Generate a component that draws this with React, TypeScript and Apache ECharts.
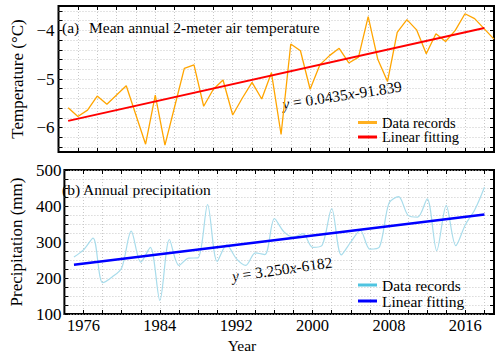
import React, { useEffect, useRef } from 'react';
import * as echarts from 'echarts';

const FONT = "'Liberation Serif', 'Times New Roman', Times, serif";

const tempYears = [
  1975, 1976, 1977, 1978, 1979, 1980, 1981, 1982, 1983, 1984, 1985, 1986, 1987, 1988, 1989,
  1990, 1991, 1992, 1993, 1994, 1995, 1996, 1997, 1998, 1999, 2000, 2001, 2002, 2003, 2004,
  2005, 2006, 2007, 2008, 2009, 2010, 2011, 2012, 2013, 2014, 2015, 2016, 2017, 2018, 2019,
];
const tempValues = [
  -5.59, -5.77, -5.64, -5.35, -5.52, -5.33, -5.14, -5.74, -6.34, -5.33, -6.36, -5.57, -4.78, -4.71, -5.56,
  -5.21, -5.02, -5.74, -5.39, -5.07, -5.41, -4.87, -6.14, -4.28, -4.42, -5.21, -4.71, -4.52, -4.37, -4.67,
  -4.55, -3.72, -4.6, -5.05, -4.04, -3.78, -3.99, -4.48, -4.07, -4.23, -4.0, -3.66, -3.76, -3.97, -4.18,
];
const precipYears = [
  1975, 1976, 1977, 1978, 1979, 1980, 1981, 1982, 1983, 1984, 1985, 1986, 1987, 1988, 1989,
  1990, 1991, 1992, 1993, 1994, 1995, 1996, 1997, 1998, 1999, 2000, 2001, 2002, 2003, 2004,
  2005, 2006, 2007, 2008, 2009, 2010, 2011, 2012, 2013, 2014, 2015, 2016, 2017, 2018,
];
const precipValues = [
  258, 278, 311, 187, 203, 228, 330, 244, 285, 138, 307, 235, 255, 256, 404,
  246, 292, 254, 235, 270, 265, 365, 328, 314, 323, 285, 291, 393, 264, 300,
  332, 280, 286, 408, 426, 374, 369, 420, 276, 402, 290, 348, 390, 452,
];
const tempFitYears = [1975, 2018];
const tempFitValues = [-5.86, -3.95];
const precipFitYears = [1975, 2018];
const precipFitValues = [236.75, 376.5];

const yearTicks = [
  1976, 1978, 1980, 1982, 1984, 1986, 1988, 1990, 1992, 1994, 1996, 1998,
  2000, 2002, 2004, 2006, 2008, 2010, 2012, 2014, 2016, 2018,
];
const yearLabels = [1976, 1984, 1992, 2000, 2008, 2016];
const tempTicks = [
  -6.4, -6.2, -6.0, -5.8, -5.6, -5.4, -5.2, -5.0, -4.8, -4.6, -4.4, -4.2, -4.0, -3.8, -3.6,
];
const tempLabels = [-6, -5, -4];
const precipLabels = [100, 200, 300, 400, 500];

const legendNamesA = ['Data records', 'Linear fitting'];
const legendNamesB = ['Data records ', 'Linear fitting '];

const split = { show: true, lineStyle: { color: '#c9c9c9', type: [1, 2], width: 1 } };
const tickStyle = { color: '#000', width: 1 };

function xAxis(gridIndex: number, position: string, labels: boolean) {
  return {
    type: 'value',
    gridIndex,
    position,
    min: 1974,
    max: 2019,
    axisLine: { show: false },
    axisTick: { show: true, inside: true, length: 4, customValues: yearTicks, lineStyle: tickStyle },
    axisLabel: {
      show: labels,
      customValues: yearLabels,
      formatter: (v: number) => String(v),
      fontFamily: FONT,
      fontSize: 16.5,
      color: '#000',
      margin: 3,
    },
    splitLine: position === 'bottom' ? split : { show: false },
  };
}

const minusFmt = (v: number) => (v < 0 ? '\u2212' + Math.abs(v) : String(v));

function tempY(position: string) {
  return {
    type: 'value',
    gridIndex: 0,
    position,
    min: -6.5,
    max: -3.5,
    name: position === 'left' ? 'Temperature (°C)' : '',
    nameLocation: 'middle',
    nameGap: 30,
    nameTextStyle: { fontFamily: FONT, fontSize: 17, color: '#000' },
    axisLine: { show: false },
    axisTick: { show: true, inside: true, length: 4, customValues: tempTicks, lineStyle: tickStyle },
    axisLabel: {
      show: position === 'left',
      customValues: tempLabels,
      formatter: minusFmt,
      fontFamily: FONT,
      fontSize: 17,
      color: '#000',
      margin: 4,
    },
    splitLine: position === 'left' ? split : { show: false },
  };
}

function precipY(position: string) {
  return {
    type: 'value',
    gridIndex: 1,
    position,
    min: 100,
    max: 500,
    interval: 25,
    name: position === 'left' ? 'Precipitation (mm)' : '',
    nameLocation: 'middle',
    nameGap: 29,
    nameTextStyle: { fontFamily: FONT, fontSize: 17, color: '#000' },
    axisLine: { show: false },
    axisTick: { show: true, inside: true, length: 4, lineStyle: tickStyle },
    axisLabel: {
      show: position === 'left',
      customValues: precipLabels,
      formatter: (v: number) => String(v),
      fontFamily: FONT,
      fontSize: 17,
      color: '#000',
      margin: 3,
    },
    splitLine: position === 'left' ? split : { show: false },
  };
}

const pairs = (xs: number[], ys: number[]) => xs.map((x, i) => [x, ys[i]]);

export default function App() {
  const ref = useRef<HTMLDivElement>(null);

  useEffect(() => {
    document.body.style.margin = '0';
    if (!ref.current) return;
    const chart = echarts.init(ref.current, null, { renderer: 'svg' });
    const textBase = { fontFamily: FONT, fill: '#000' };
    const legendCommon = {
      orient: 'vertical',
      left: 358,
      padding: 0,
      itemWidth: 19,
      itemHeight: 3,
      icon: 'rect',
      selectedMode: false,
    };
    chart.setOption({
      animation: false,
      backgroundColor: '#fff',
      grid: [
        { left: 58.5, right: 6, top: 6, height: 146, show: true, borderColor: '#000', borderWidth: 2, backgroundColor: 'transparent' },
        { left: 58.5, right: 6, top: 170, height: 144, show: true, borderColor: '#000', borderWidth: 2, backgroundColor: 'transparent' },
      ],
      xAxis: [xAxis(0, 'bottom', false), xAxis(0, 'top', false), xAxis(1, 'bottom', true), xAxis(1, 'top', false)],
      yAxis: [tempY('left'), tempY('right'), precipY('left'), precipY('right')],
      legend: [
        {
          ...legendCommon,
          top: 115,
          itemGap: -0.5,
          data: legendNamesA,
          textStyle: { fontFamily: FONT, fontSize: 14.5, color: '#000' },
        },
        {
          ...legendCommon,
          top: 277,
          itemGap: 0,
          data: legendNamesB,
          textStyle: { fontFamily: FONT, fontSize: 15.5, color: '#000' },
        },
      ],
      series: [
        {
          name: legendNamesA[0],
          type: 'line',
          xAxisIndex: 0,
          yAxisIndex: 0,
          data: pairs(tempYears, tempValues),
          showSymbol: false,
          color: '#FFB020',
          lineStyle: { color: '#FFA500', width: 1.3 },
          z: 2,
        },
        {
          name: legendNamesA[1],
          type: 'line',
          xAxisIndex: 0,
          yAxisIndex: 0,
          data: pairs(tempFitYears, tempFitValues),
          showSymbol: false,
          color: '#FF0000',
          lineStyle: { color: '#FF0000', width: 2 },
          z: 3,
        },
        {
          name: legendNamesB[0],
          type: 'line',
          xAxisIndex: 2,
          yAxisIndex: 2,
          data: pairs(precipYears, precipValues),
          showSymbol: false,
          smooth: 0.3,
          color: '#4FC4E0',
          lineStyle: { color: '#A8DCEB', width: 1.2 },
          z: 2,
        },
        {
          name: legendNamesB[1],
          type: 'line',
          xAxisIndex: 2,
          yAxisIndex: 2,
          data: pairs(precipFitYears, precipFitValues),
          showSymbol: false,
          color: '#0000FF',
          lineStyle: { color: '#0000FF', width: 2.5 },
          z: 3,
        },
      ],
      graphic: [
        { type: 'text', x: 62, y: 27, style: { ...textBase, text: '(a)', fontSize: 15.5, textVerticalAlign: 'middle' } },
        { type: 'text', x: 89, y: 27, style: { ...textBase, text: 'Mean annual 2-meter air temperature', fontSize: 15.5, textVerticalAlign: 'middle' } },
        { type: 'text', x: 62, y: 189, style: { ...textBase, text: '(b)', fontSize: 15.5, textVerticalAlign: 'middle' } },
        { type: 'text', x: 83, y: 189, style: { ...textBase, text: 'Annual precipitation', fontSize: 15.5, textVerticalAlign: 'middle' } },
        {
          type: 'text',
          x: 342,
          y: 95,
          rotation: 0.15,
          style: {
            ...textBase,
            text: '{i|y} = 0.0435{i|x}-91.839',
            fontSize: 15.5,
            textAlign: 'center',
            textVerticalAlign: 'middle',
            rich: { i: { fontFamily: FONT, fontSize: 15.5, fontStyle: 'italic', fill: '#000' } },
          },
        },
        {
          type: 'text',
          x: 282,
          y: 269,
          rotation: 0.14,
          style: {
            ...textBase,
            text: '{i|y} = 3.250{i|x}-6182',
            fontSize: 15.5,
            textAlign: 'center',
            textVerticalAlign: 'middle',
            rich: { i: { fontFamily: FONT, fontSize: 15.5, fontStyle: 'italic', fill: '#000' } },
          },
        },
        { type: 'text', x: 242, y: 345, style: { ...textBase, text: 'Year', fontSize: 15.5, textAlign: 'center', textVerticalAlign: 'middle' } },
      ],
    });
    return () => chart.dispose();
  }, []);

  return <div ref={ref} style={{ position: 'fixed', left: 0, top: 0, width: 500, height: 362 }} />;
}
